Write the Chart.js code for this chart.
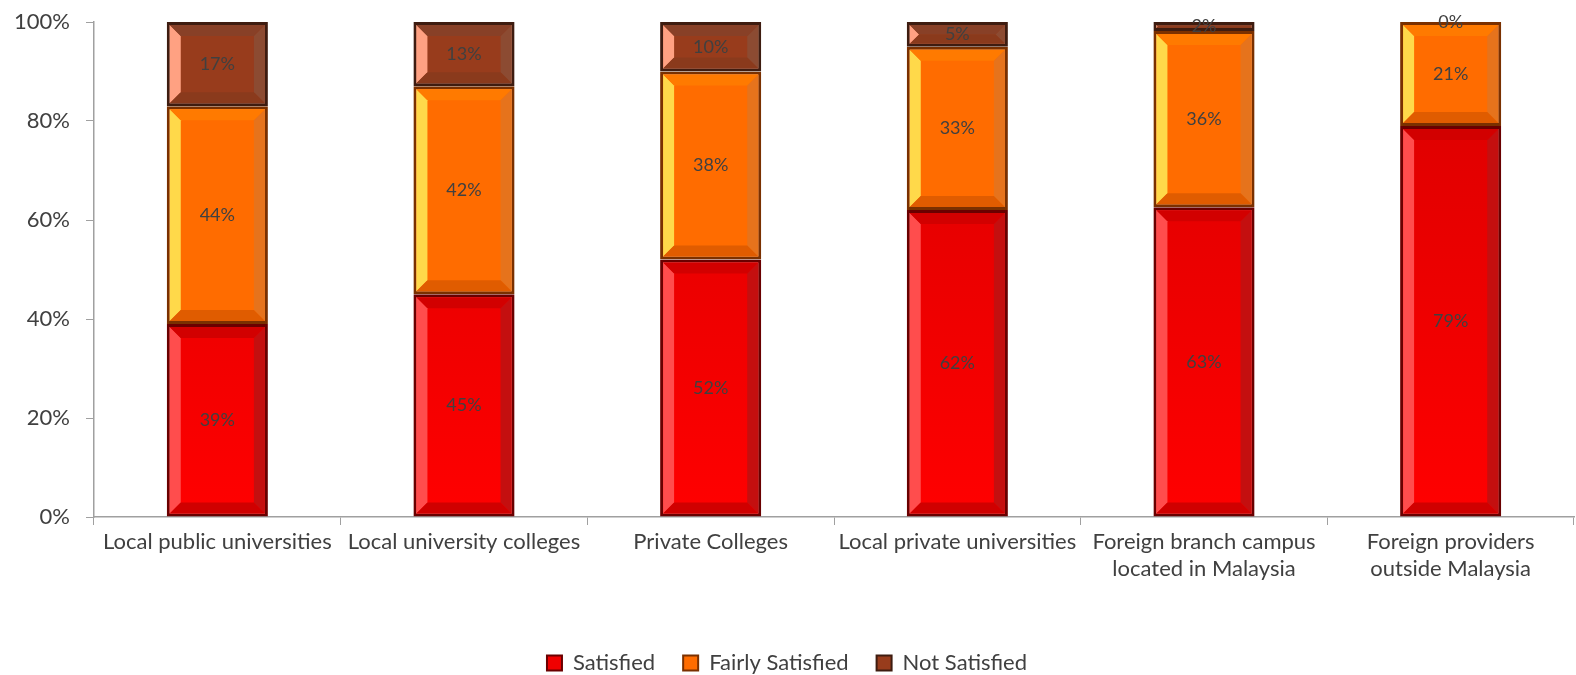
<!DOCTYPE html>
<html>
<head>
<meta charset="utf-8">
<script src="https://cdn.jsdelivr.net/npm/chart.js@4"></script>
<style>
  html, body { margin: 0; padding: 0; background: #fff; }
  #wrap { width: 1576px; height: 675px; }
</style>
</head>
<body>
<div id="wrap"><canvas id="myChart" width="1576" height="675"></canvas></div>
<script>
const categories = [
  "Local public universities",
  "Local university colleges",
  "Private Colleges",
  "Local private universities",
  ["Foreign branch campus", "located in Malaysia"],
  ["Foreign providers", "outside Malaysia"]
];
const satisfied = [39, 45, 52, 62, 62.6, 79];
const fairlySatisfied = [44, 42, 38, 33, 35.6, 21];
const notSatisfied = [17, 13, 10, 5, 1.8, 0];
const yTicks = [0, 20, 40, 60, 80, 100];

// colours for each series: fill, border, bevel sides
const styles = [
  { fill: "#f00000", border: "#6a0000", left: "#ff4d4d", right: "#c40f0f", top: "#d20000", bottom: "#d00000" },
  { fill: "#ff6c00", border: "#7a3000", left: "#ffd94a", right: "#e6731c", top: "#ff7a00", bottom: "#e05c00" },
  { fill: "#983c1c", border: "#3e1c10", left: "#ffa182", right: "#8c4b32", top: "#884027", bottom: "#8a3a1c" }
];

// red gets a slight top-to-bottom shading like the original
function redFill(context) {
  const area = context.chart.chartArea;
  if (!area) return styles[0].fill;
  const g = context.chart.ctx.createLinearGradient(0, area.top, 0, area.bottom);
  g.addColorStop(0, "#d80000");
  g.addColorStop(1, "#ff0000");
  return g;
}

// bevel + value labels drawn over the bars
const bevelPlugin = {
  id: "bevel",
  afterDatasetsDraw(chart) {
    const ctx = chart.ctx;
    chart.data.datasets.forEach((ds, di) => {
      const meta = chart.getDatasetMeta(di);
      const st = styles[di];
      meta.data.forEach((bar) => {
        const w = bar.width;
        const x0 = bar.x - w / 2 + 3, x1 = bar.x + w / 2 - 3;
        const top = Math.min(bar.y, bar.base) + 3, bot = Math.max(bar.y, bar.base) - 3;
        if (bot - top < 2) return;
        const b = Math.min(11, (bot - top) / 2);
        const sides = [
          [st.left, [[x0, top], [x0 + b, top + b], [x0 + b, bot - b], [x0, bot]]],
          [st.right, [[x1, top], [x1 - b, top + b], [x1 - b, bot - b], [x1, bot]]],
          [st.top, [[x0, top], [x1, top], [x1 - b, top + b], [x0 + b, top + b]]],
          [st.bottom, [[x0, bot], [x1, bot], [x1 - b, bot - b], [x0 + b, bot - b]]]
        ];
        ctx.save();
        sides.forEach(([c, pts]) => {
          ctx.beginPath();
          ctx.moveTo(pts[0][0], pts[0][1]);
          pts.slice(1).forEach((p) => ctx.lineTo(p[0], p[1]));
          ctx.closePath();
          ctx.fillStyle = c;
          ctx.fill();
        });
        ctx.restore();
      });
    });
    // labels
    ctx.save();
    ctx.font = "18px Lato";
    ctx.fillStyle = "#404040";
    ctx.textAlign = "center";
    ctx.textBaseline = "middle";
    chart.data.datasets.forEach((ds, di) => {
      chart.getDatasetMeta(di).data.forEach((bar, i) => {
        const v = ds.data[i];
        ctx.fillText(Math.round(v) + "%", bar.x, (bar.y + bar.base) / 2);
      });
    });
    ctx.restore();
  }
};

const ctx = document.getElementById("myChart").getContext("2d");

const myChart = new Chart(ctx, {
  type: "bar",
  data: {
    labels: categories,
    datasets: [
      { label: "Satisfied", data: satisfied },
      { label: "Fairly Satisfied", data: fairlySatisfied },
      { label: "Not Satisfied", data: notSatisfied }
    ].map((d, i) => ({
      ...d,
      backgroundColor: i === 0 ? redFill : styles[i].fill,
      borderColor: styles[i].border,
      borderWidth: 3,
      borderSkipped: false,
      categoryPercentage: 0.41,
      barPercentage: 1
    }))
  },
  options: {
    responsive: false,
    animation: false,
    layout: { padding: { left: 0, right: 2, top: 22, bottom: -9 } },
    plugins: {
      legend: {
        position: "bottom",
        labels: {
          color: "#404040",
          font: { family: "Lato", size: 22 },
          boxWidth: 15,
          boxHeight: 15,
          padding: 28,
          generateLabels(chart) {
            return chart.data.datasets.map((ds, i) => ({
              text: ds.label,
              fillStyle: styles[i].fill,
              strokeStyle: styles[i].border,
              lineWidth: 2,
              fontColor: "#404040",
              datasetIndex: i
            }));
          }
        }
      },
      tooltip: { enabled: false }
    },
    scales: {
      x: {
        stacked: true,
        offset: true,
        border: { color: "#a0a0a0", width: 1.5 },
        grid: { offset: true, drawOnChartArea: false, tickLength: 8, color: "#a0a0a0" },
        ticks: {
          color: "#404040",
          font: { family: "Lato", size: 22 },
          maxRotation: 0,
          autoSkip: false,
          padding: 4
        },
        afterFit(scale) { scale.height = 107; }
      },
      y: {
        stacked: true,
        min: 0,
        max: 100,
        border: { color: "#a0a0a0", width: 1.5 },
        grid: { drawOnChartArea: false, tickLength: 8, color: "#a0a0a0" },
        afterBuildTicks(scale) { scale.ticks = yTicks.map((v) => ({ value: v })); },
        ticks: {
          color: "#404040",
          font: { family: "Lato", size: 22 },
          padding: 16,
          callback: (v) => v + "%"
        },
        afterFit(scale) {
          scale.width = 94;
          scale.paddingTop = 0;
          scale.paddingBottom = 0;
        }
      }
    }
  },
  plugins: [bevelPlugin]
});
</script>
</body>
</html>
